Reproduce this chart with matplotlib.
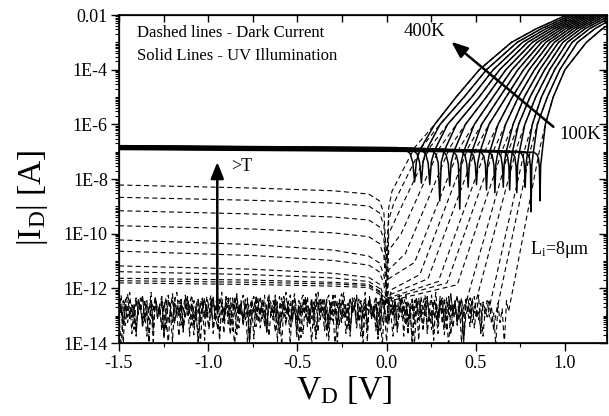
import numpy as np
import matplotlib
matplotlib.use('Agg')
import matplotlib.pyplot as plt
from matplotlib.ticker import FixedLocator, FuncFormatter, MultipleLocator, LogLocator, NullFormatter

plt.rcParams['font.family'] = ['Liberation Serif', 'DejaVu Serif']
plt.rcParams['mathtext.fontset'] = 'custom'
plt.rcParams['mathtext.rm'] = 'Liberation Serif'
plt.rcParams['mathtext.it'] = 'Liberation Serif:italic'

# ---------------- data (log10 |I| in A, V in volts) ----------------
temps = [400, 380, 360, 340, 320, 300, 280, 260, 240, 220, 200, 180, 160, 140, 120, 100]

# UV illumination (solid lines)
solid_lvl_start = [-6.78, -6.79, -6.80, -6.80, -6.81, -6.82, -6.82, -6.83, -6.84, -6.85, -6.86, -6.87, -6.88, -6.89, -6.90, -6.92]
solid_lvl_knee = [-6.85, -6.86, -6.87, -6.88, -6.90, -6.91, -6.92, -6.93, -6.94, -6.95, -6.96, -6.97, -6.98, -6.99, -7.00, -7.02]
solid_dip_v = [0.157, 0.195, 0.242, 0.298, 0.354, 0.410, 0.457, 0.504, 0.560, 0.607, 0.654, 0.690, 0.730, 0.777, 0.810, 0.860]
solid_dip_log = [-8.1, -8.15, -8.2, -8.8, -8.25, -9.1, -8.3, -8.2, -8.4, -8.5, -8.3, -8.4, -8.5, -8.3, -9.2, -8.8]
solid_bend_w = [0.10, 0.095, 0.09, 0.085, 0.08, 0.075, 0.07, 0.065, 0.06, 0.055, 0.05, 0.047, 0.044, 0.041, 0.038, 0.035]
# dip profile (fraction of bend width, drop below knee level)
dip_frac = [-1.0, -0.5, -0.25, -0.1, 0.0, 0.1, 0.3]
dip_drop = [0.0, -0.08, -0.22, -0.55, None, -0.5, -0.08]

# forward-bias branch: voltage at which each curve reaches these levels
fwd_levels = [-6.0, -5.0, -4.0, -3.0, -2.5, -2.0]
v_at_m6 = [0.270, 0.300, 0.342, 0.392, 0.442, 0.492, 0.533, 0.574, 0.625, 0.667, 0.709, 0.740, 0.775, 0.817, 0.845, 0.890]
v_at_m5 = [0.390, 0.435, 0.478, 0.519, 0.559, 0.597, 0.634, 0.670, 0.705, 0.739, 0.772, 0.804, 0.836, 0.868, 0.901, 0.934]
v_at_m4 = [0.520, 0.560, 0.598, 0.634, 0.669, 0.703, 0.736, 0.768, 0.799, 0.829, 0.858, 0.886, 0.914, 0.942, 0.971, 1.000]
v_at_m3 = [0.700, 0.732, 0.762, 0.790, 0.817, 0.843, 0.868, 0.892, 0.916, 0.940, 0.964, 0.988, 1.013, 1.040, 1.070, 1.120]
v_at_m25 = [0.840, 0.868, 0.894, 0.918, 0.941, 0.963, 0.984, 1.005, 1.026, 1.047, 1.068, 1.090, 1.113, 1.138, 1.168, 1.210]
v_at_m2 = [1.010, 1.035, 1.058, 1.080, 1.100, 1.120, 1.139, 1.158, 1.177, 1.196, 1.215, 1.235, 1.256, 1.278, 1.303, 1.340]

# Dark current (dashed lines), smooth curves 400K..200K
dark_rev_v = [-1.5, -0.75, -0.3, -0.1]
dark_rev_a = [-8.22, -8.67, -9.16, -9.71, -10.23, -10.64, -11.18, -11.39, -11.63, -11.72, -11.80]
dark_rev_b = [-8.33, -8.78, -9.28, -9.83, -10.40, -10.80, -11.30, -11.50, -11.70, -11.78, -11.86]
dark_rev_c = [-8.43, -8.88, -9.39, -9.97, -10.60, -10.98, -11.45, -11.62, -11.78, -11.84, -11.92]
dark_rev_d = [-8.55, -8.99, -9.50, -10.11, -10.82, -11.15, -11.60, -11.75, -11.85, -11.90, -11.97]
dark_zero_dip = [-11.0, -11.5, -12.0, -12.3, -12.2, -12.5, -12.4, -12.6, -12.3, -12.5, -12.4]
dark_fwd_start_v = [0.030, 0.040, 0.055, 0.081, 0.106, 0.157, 0.186, 0.232, 0.290, 0.339, 0.396, 0.454, 0.511, 0.573, 0.626, 0.696]
dark_cross_log = -6.85

# Dark current, noisy low-T curves (180K..100K)
noise_base = [-11.95, -12.0, -12.05, -12.1, -12.15]
noise_shift = [0, 23, 47, 61, 83]
noise_step = 0.012
noise = [-0.3, -0.9, -0.5, -1.4, -0.6, -0.2, -1.1, -0.7, -1.8, -0.4, -0.8, -0.3, -1.2, -0.6, -0.9, -0.2, -1.6, -0.5, -0.7, -1.0,
         -0.4, -1.9, -0.6, -0.3, -0.8, -1.3, -0.5, -0.2, -1.0, -0.7, -1.5, -0.4, -0.9, -0.6, -0.3, -1.2, -0.8, -2.0, -0.5, -0.7,
         -0.4, -1.1, -0.6, -0.3, -1.7, -0.9, -0.5, -0.8, -0.2, -1.3, -0.6, -1.0, -0.4, -1.6, -0.7, -0.3, -0.9, -0.5, -1.4, -0.8,
         -0.4, -1.1, -0.6, -1.9, -0.3, -0.7, -1.0, -0.5, -0.8, -1.5, -0.4, -0.6, -1.2, -0.3, -0.9, -1.7, -0.5, -0.7, -0.2, -1.0,
         -0.6, -1.3, -0.4, -0.8, -2.0, -0.5, -0.3, -1.1, -0.7, -0.9, -0.4, -1.4, -0.6, -0.2, -1.0, -0.8, -1.6, -0.5, -0.3, -1.2]

x_ticks = [-1.5, -1.0, -0.5, 0.0, 0.5, 1.0]
y_ticks = [1e-14, 1e-12, 1e-10, 1e-8, 1e-6, 1e-4, 1e-2]
y_tick_labels = ['1E-14', '1E-12', '1E-10', '1E-8', '1E-6', '1E-4', '0.01']

# ---------------- figure ----------------
W, H = 609, 416
fig = plt.figure(figsize=(W / 100, H / 100), dpi=100)
ax = fig.add_axes([119 / W, 1 - 343 / H, (607 - 119) / W, (343 - 15) / H])
ax.set_yscale('log')
ax.set_xlim(-1.5, 1.2355)
ax.set_ylim(1e-14, 1e-2)

dash = (0, (4.5, 3.0))
lw_d = 0.8
lw_s = 1.1

fwd_arrays = [v_at_m6, v_at_m5, v_at_m4, v_at_m3, v_at_m25, v_at_m2]

# dark smooth curves
for j in range(len(dark_rev_a)):
    v = list(dark_rev_v) + [-0.04, -0.015, 0.0, 0.012, dark_fwd_start_v[j], solid_dip_v[j]]
    lg = [dark_rev_a[j], dark_rev_b[j], dark_rev_c[j], dark_rev_d[j],
          dark_rev_d[j] - 0.25, dark_rev_d[j] - 0.7, dark_zero_dip[j], dark_rev_d[j] - 0.5,
          dark_rev_d[j] + 0.1, dark_cross_log]
    for arr, lev in zip(fwd_arrays, fwd_levels):
        v.append(arr[j]); lg.append(lev)
    ax.plot(v, 10 ** np.array(lg), color='k', lw=lw_d, ls=dash)

# dark noisy curves
n_sm = len(dark_rev_a)
for m in range(len(noise_base)):
    j = n_sm + m
    vg = np.arange(-1.5, dark_fwd_start_v[j], noise_step)
    lg = [noise_base[m] + noise[(k + noise_shift[m]) % len(noise)] for k in range(len(vg))]
    v = list(vg) + [solid_dip_v[j]]
    lg = lg + [dark_cross_log]
    for arr, lev in zip(fwd_arrays, fwd_levels):
        v.append(arr[j]); lg.append(lev)
    ax.plot(v, 10 ** np.array(lg), color='k', lw=lw_d, ls=dash)

# illuminated (solid) curves
for i in range(len(temps)):
    d = solid_dip_v[i]
    w = solid_bend_w[i]
    v = [-1.5]
    lg = [solid_lvl_start[i]]
    for f, dr in zip(dip_frac, dip_drop):
        v.append(d + f * w)
        lg.append(solid_dip_log[i] if dr is None else solid_lvl_knee[i] + dr)
    for arr, lev in zip(fwd_arrays, fwd_levels):
        v.append(arr[i]); lg.append(lev)
    ax.plot(v, 10 ** np.array(lg), color='k', lw=lw_s, solid_joinstyle='round')

# arrows
ax.annotate('', xy=(0.363, 10 ** -2.98), xytext=(0.935, 10 ** -6.09),
            arrowprops=dict(arrowstyle='-|>,head_length=0.7,head_width=0.28', lw=1.8, color='k',
                            mutation_scale=14, shrinkA=0, shrinkB=0))
ax.annotate('', xy=(-0.949, 10 ** -7.38), xytext=(-0.949, 10 ** -12.79),
            arrowprops=dict(arrowstyle='-|>,head_length=0.7,head_width=0.28', lw=1.8, color='k',
                            mutation_scale=14, shrinkA=0, shrinkB=0))

# texts
ax.text(-1.40, 10 ** -2.66, 'Dashed lines - Dark Current', fontsize=12, ha='left', va='center')
ax.text(-1.40, 10 ** -3.50, 'Solid Lines - UV Illumination', fontsize=12, ha='left', va='center')
ax.text(0.21, 10 ** -2.62, '400K', fontsize=13.5, ha='center', va='center')
ax.text(1.084, 10 ** -6.37, '100K', fontsize=13.5, ha='center', va='center')
ax.text(-0.813, 10 ** -7.54, '>T', fontsize=13, ha='center', va='center')
ax.text(0.804, 10 ** -10.58, r'L$_\mathrm{i}$=8μm', fontsize=13, ha='left', va='center')

# ticks
label_map = dict(zip([round(np.log10(t)) for t in y_ticks], y_tick_labels))
ax.xaxis.set_major_locator(FixedLocator(x_ticks))
ax.xaxis.set_minor_locator(MultipleLocator(0.25))
ax.xaxis.set_major_formatter(FuncFormatter(lambda x, p: '%.1f' % x))
ax.yaxis.set_major_locator(FixedLocator(y_ticks))
ax.yaxis.set_major_formatter(FuncFormatter(lambda y, p: label_map.get(round(np.log10(y)), '')))
ax.yaxis.set_minor_locator(LogLocator(base=10, subs=np.arange(1, 10), numticks=40))
ax.yaxis.set_minor_formatter(NullFormatter())
ax.tick_params(which='major', direction='out', length=6, width=1.0, labelsize=13, pad=2)
ax.tick_params(which='minor', direction='out', length=3, width=0.8)
ax.tick_params(axis='x', which='major', pad=3)
for s in ax.spines.values():
    s.set_linewidth(1.2)

axt = ax.twiny()
axt.set_xlim(ax.get_xlim())
axt.xaxis.set_major_locator(MultipleLocator(0.25))
axt.tick_params(axis='x', direction='in', length=5, width=1.0, labeltop=False)
axr = ax.twinx()
axr.set_yscale('log')
axr.set_ylim(1e-14, 1e-2)
axr.yaxis.set_major_locator(FixedLocator(y_ticks))
axr.yaxis.set_minor_locator(LogLocator(base=10, subs=np.arange(1, 10), numticks=40))
axr.yaxis.set_minor_formatter(NullFormatter())
axr.tick_params(axis='y', which='major', direction='in', length=6, width=1.0, labelright=False)
axr.tick_params(axis='y', which='minor', direction='in', length=3, width=0.8)

# axis labels
fig.text(344 / W, 1 - 390 / H, r'V$_\mathrm{D}$ [V]', fontsize=24, ha='center', va='center')
fig.text(33 / W, 1 - 198 / H, r'|I$_\mathrm{D}$| [A]', fontsize=24, ha='center', va='center', rotation=90)

fig.savefig('out.png', dpi=100)
